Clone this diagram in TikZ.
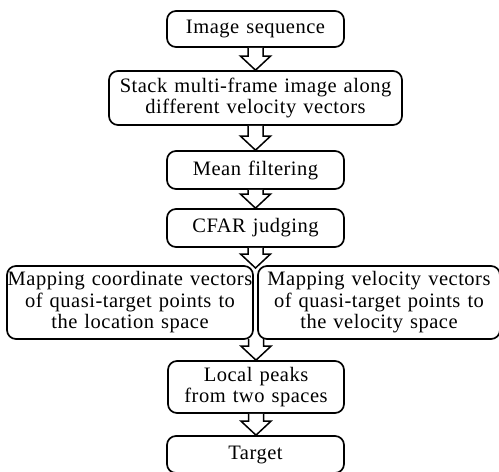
\documentclass[tikz,border=0pt]{standalone}
\usepackage{fontspec}
\setmainfont{Liberation Serif}[LetterSpace=2.5, WordSpace=1.25]
\usetikzlibrary{calc}

\tikzset{
  stepbox/.style={draw=black, line width=1.7pt, rounded corners=9pt,
    rectangle, inner sep=0pt, align=center, fill=white,
    font=\fontsize{20.5}{21.5}\selectfont},
  hollowarrow/.style={draw=black, line width=1.5pt, fill=white, line join=miter}
}

% hollow block arrow from the point #1 (top) down to the point #2 (tip)
\newcommand{\blockarrow}[2]{%
  \path[hollowarrow] let \p1=(#1), \p2=(#2) in
    (\x1-7.5pt,\y1) -- (\x1-7.5pt,\y2+14pt) -- (\x1-15pt,\y2+14pt)
    -- (\x1,\y2) -- (\x1+15pt,\y2+14pt) -- (\x1+7.5pt,\y2+14pt)
    -- (\x1+7.5pt,\y1);%
}

\begin{document}
\begin{tikzpicture}[x=1pt, y=-1pt]
  \useasboundingbox (0,0) rectangle (499,472);

  \node[stepbox, minimum width=177pt, minimum height=36pt] (seq) at (255.5,29)
    {Image sequence};
  \node[stepbox, minimum width=293pt, minimum height=54pt] (stack) at (255.5,98)
    {Stack multi-frame image along\\different velocity vectors};
  \node[stepbox, minimum width=177pt, minimum height=38pt] (mean) at (255.5,170)
    {Mean filtering};
  \node[stepbox, minimum width=177pt, minimum height=38pt] (cfar) at (255.5,228)
    {CFAR judging};
  \node[stepbox, minimum width=246pt, minimum height=73pt] (loc) at (130,302.5)
    {Mapping coordinate vectors\\of quasi-target points to\\the location space};
  \node[stepbox, minimum width=242pt, minimum height=73pt] (vel) at (379,302.5)
    {Mapping velocity vectors\\of quasi-target points to\\the velocity space};
  \node[stepbox, minimum width=176pt, minimum height=52pt] (peaks) at (256,387)
    {Local peaks\\from two spaces};
  \node[stepbox, minimum width=177pt, minimum height=37pt] (target) at (255.5,454.5)
    {Target};

  % meeting points between the two mapping boxes
  \coordinate (split) at (256,268);
  \coordinate (merge) at (256,339);

  \blockarrow{seq.south}{stack.north}
  \blockarrow{stack.south}{mean.north}
  \blockarrow{mean.south}{cfar.north}
  \blockarrow{cfar.south}{split}
  \blockarrow{merge}{peaks.north}
  \blockarrow{peaks.south}{target.north}
\end{tikzpicture}
\end{document}
